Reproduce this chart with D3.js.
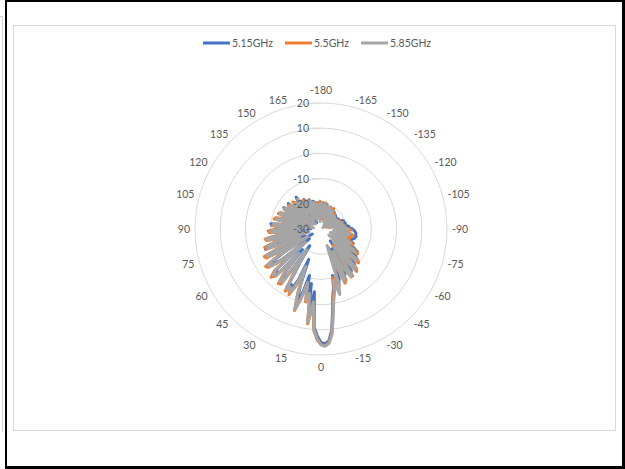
<!DOCTYPE html>
<html>
<head>
<meta charset="utf-8" />
<title>Radiation pattern</title>
<script src="https://d3js.org/d3.v7.min.js"></script>
<style>
  body { margin: 0; background: #fff; }
  text { font-family: Lato, "Open Sans", sans-serif; fill: #595959; }
</style>
</head>
<body>
<script>
// angles of the pattern, one value every 2 degrees
var categories = d3.range(-180, 180, 2);

// gain values (dB), rows of 15 starting at -180, -150, -120 ... 150
var gain515 = [
  -21,-20,-19.5,-23,-26,-22,-20.5,-20,-24,-22,-21,-25,-23,-21.5,-22,
  -21,-23,-26,-22,-21.5,-24,-27,-23,-22,-25,-24,-22.5,-25,-27,-23,
  -22,-24,-27,-23,-21,-20.5,-24,-22,-20,-23,-25,-20,-19,-21,-18.5,
  -17.5,-17,-16.5,-16.2,-16,-16,-15.8,-16,-16.3,-17,-22,-17.5,-16,-18,-24,
  -15,-13,-17,-25,-12.5,-11.5,-15,-22,-11,-10,-15,-24,-9.5,-9,-12,
  -21,-10,-8.5,-14,-22,-9,-7,-5,-11,-6,-3,3,10.5,14.5,15.6,
  15,12.5,9,-5,7,-8,-3,-11,-4,2,-6,-17,-8,-3.5,-5,
  -3,-14,-22,-5,-4,-9,-19,-6,-4.5,-7,-24,-10,-6,-5.5,-13,
  -26,-8,-7,-15,-23,-6.5,-7,-14,-23,-10,-9,-17,-24,-11.5,-11,
  -16,-26,-10.5,-10,-20,-24,-13,-13,-19,-25,-14,-13.5,-21,-24,-15,
  -13,-16,-26,-14,-13.5,-22,-25,-16.5,-17,-24,-16,-14,-21,-27,-18,
  -16.5,-20,-24,-19,-17.5,-21,-25,-18.5,-19,-23,-21,-19.5,-25,-22,-21
];
var gain55 = [
  -19.5,-20,-23,-26,-20,-19.5,-22,-24,-21,-22,-25,-23,-20.5,-21,-26,
  -23,-20.5,-22,-26,-24,-22,-23,-27,-22.5,-23,-26,-25,-27,-24,-23,
  -24,-27,-23,-22,-24,-26,-22,-21,-23,-27,-22,-20.5,-21,-23,-20,
  -19,-18,-21,-24,-19,-17.5,-17,-20,-21,-18,-24,-19,-17,-16,-23,
  -22,-14,-12.5,-20,-24,-11,-10,-17,-21,-9,-8,-15,-22,-7.5,-8.5,
  -14,-19,-7.5,-6.5,-16,-21,-7,-4,-10,-5,-2,4,11.5,15.2,16.3,
  15.8,14,10.5,0,8,-4,-0.5,-8,-1.5,4,-3,-12,-5,-1,-3.5,
  -1.5,-10,-18,-3,-2.5,-7,-15,-4,-2.5,-5,-20,-8,-4,-3.5,-10,
  -22,-5.5,-5,-12,-19,-7,-6.5,-11,-24,-8,-7.5,-13,-20,-9.5,-9,
  -12,-22,-10.5,-11.5,-16,-25,-11,-11.5,-15,-21,-12,-13,-17,-24,-13.5,
  -14,-17,-22,-14,-15,-19,-25,-14.5,-15.5,-20,-16.5,-16,-18,-23,-16.5,
  -18,-21,-24,-17.5,-18.5,-22,-19,-20,-24,-20.5,-19.5,-23,-25,-20,-19
];
var gain585 = [
  -20,-19.5,-22,-25,-21,-20,-23,-21.5,-20.5,-24,-27,-22,-21,-23,-25,
  -22,-21.5,-24,-28,-23,-22.5,-25,-23,-27,-24,-23,-26,-29,-25,-24,
  -23,-26,-24,-22.5,-25,-28,-23,-21.5,-22,-26,-23,-21,-20.5,-24,-21,
  -19.5,-19,-22,-25,-20,-18.5,-19,-23,-20,-19.5,-26,-22,-18,-17,-21,
  -24,-15,-13.5,-19,-26,-12,-11,-16,-23,-10,-9,-14,-21,-8.5,-7.5,
  -12,-20,-9,-7.5,-15,-23,-8,-3,-9,-4,-1,5,12,15.5,16.6,
  16,13.5,10,-1,7.5,-4,-1.2,-8,-1,3.5,-4,-14,-6,-2,-4,
  -2.5,-12,-20,-4,-3.5,-8,-17,-5,-3.5,-6,-22,-9,-5,-4.5,-11,
  -24,-7,-6,-13,-21,-8,-7.5,-12,-25,-9,-8,-15,-22,-10.5,-10,
  -14,-24,-11.5,-11,-18,-27,-12,-12.5,-17,-23,-13,-12.5,-19,-26,-14,
  -13.5,-18,-24,-15,-14.5,-20,-27,-15.5,-16,-22,-17,-15,-19,-25,-17,
  -17.5,-22,-26,-18.5,-18,-23,-19.5,-19,-25,-21,-20,-24,-27,-21,-20
];

var seriesNames = ["5.15GHz", "5.5GHz", "5.85GHz"];
var angleTicks = [-180,-165,-150,-135,-120,-105,-90,-75,-60,-45,-30,-15,0,15,30,45,60,75,90,105,120,135,150,165];
var radialTicks = [-30,-20,-10,0,10,20];

var colors = ["#4472C4", "#ED7D31", "#A5A5A5"];
var W = 625, H = 469;
var cx = 321, cy = 229, R = 126;

var svg = d3.select("body").append("svg")
    .attr("width", W)
    .attr("height", H);

svg.append("rect").attr("width", W).attr("height", H).attr("fill", "#fff");

// page frame
svg.append("path")
    .attr("d", "M0,16.5H2.5V432")
    .attr("fill", "none").attr("stroke", "#cfcfcf");
svg.append("rect").attr("x", 5).attr("y", 0).attr("width", 620).attr("height", 2).attr("fill", "#000");
svg.append("rect").attr("x", 5).attr("y", 0).attr("width", 2).attr("height", H).attr("fill", "#000");
svg.append("rect").attr("x", 622).attr("y", 0).attr("width", 3).attr("height", H).attr("fill", "#000");
svg.append("rect").attr("x", 5).attr("y", 466).attr("width", 620).attr("height", 3).attr("fill", "#000");

// chart area
svg.append("rect")
    .attr("x", 13.5).attr("y", 25.5)
    .attr("width", 602).attr("height", 405)
    .attr("fill", "#fff").attr("stroke", "#d9d9d9");

var rScale = d3.scaleLinear().domain([-30, 20]).range([0, R]).clamp(true);
var aScale = d3.scaleLinear().domain([-180, 180]).range([0, 2 * Math.PI]);

var g = svg.append("g").attr("transform", "translate(" + cx + "," + cy + ")");

// rings
var rings = radialTicks.filter(function(d){ return d > -30; });
g.selectAll("circle.ring")
    .data(rings)
    .enter().append("circle")
    .attr("class", "ring")
    .attr("r", function(d){ return rScale(d); })
    .attr("fill", "none")
    .attr("stroke", "#d9d9d9")
    .attr("stroke-width", 1);

g.selectAll("line.tick")
    .data(rings)
    .enter().append("line")
    .attr("class", "tick")
    .attr("x1", -9).attr("x2", 0)
    .attr("y1", function(d){ return -rScale(d); })
    .attr("y2", function(d){ return -rScale(d); })
    .attr("stroke", "#d9d9d9");

// series
var allSeries = [gain515, gain55, gain585];
var line = d3.lineRadial()
    .angle(function(d){ return aScale(d.c); })
    .radius(function(d){ return rScale(d.v); })
    .curve(d3.curveLinearClosed);

allSeries.forEach(function(vals, i){
  var pts = categories.map(function(c, j){ return {c: c, v: vals[j]}; });
  g.append("path")
      .datum(pts)
      .attr("d", line)
      .attr("fill", "none")
      .attr("stroke", colors[i])
      .attr("stroke-width", 3)
      .attr("stroke-linejoin", "round");
});

// radial labels
g.selectAll("text.rlab")
    .data(radialTicks)
    .enter().append("text")
    .attr("class", "rlab")
    .attr("x", -12)
    .attr("y", function(d){ return -rScale(d); })
    .attr("text-anchor", "end")
    .attr("dominant-baseline", "central")
    .style("font-size", "10.5px")
    .text(function(d){ return d; });

// angle labels, anchored just outside the outer ring
g.selectAll("text.alab")
    .data(angleTicks)
    .enter().append("text")
    .attr("class", "alab")
    .attr("dominant-baseline", "central")
    .style("font-size", "10.5px")
    .each(function(d){
      var a = aScale(d);
      var ux = Math.sin(a), uy = -Math.cos(a);
      var rr = R + 5;
      var anchor = "middle", dy = uy * 3;
      if (ux > 0.01) anchor = "start";
      else if (ux < -0.01) anchor = "end";
      else dy = uy > 0 ? 7 : -8;
      d3.select(this)
        .attr("x", ux * rr)
        .attr("y", uy * rr + dy)
        .attr("text-anchor", anchor);
    })
    .text(function(d){ return d; });

// legend
var leg = svg.append("g");
var xpos = 0;
seriesNames.forEach(function(name, i){
  var item = leg.append("g").attr("transform", "translate(" + xpos + ",0)");
  item.append("line")
      .attr("x1", 0).attr("x2", 27)
      .attr("y1", 0).attr("y2", 0)
      .attr("stroke", colors[i]).attr("stroke-width", 3);
  var t = item.append("text")
      .attr("x", 29).attr("y", 0)
      .attr("dominant-baseline", "central")
      .style("font-size", "10.5px")
      .text(name);
  xpos += 29 + t.node().getComputedTextLength() + 12;
});
var legW = xpos - 12;
leg.attr("transform", "translate(" + (317 - legW / 2) + ",43)");
</script>
</body>
</html>
